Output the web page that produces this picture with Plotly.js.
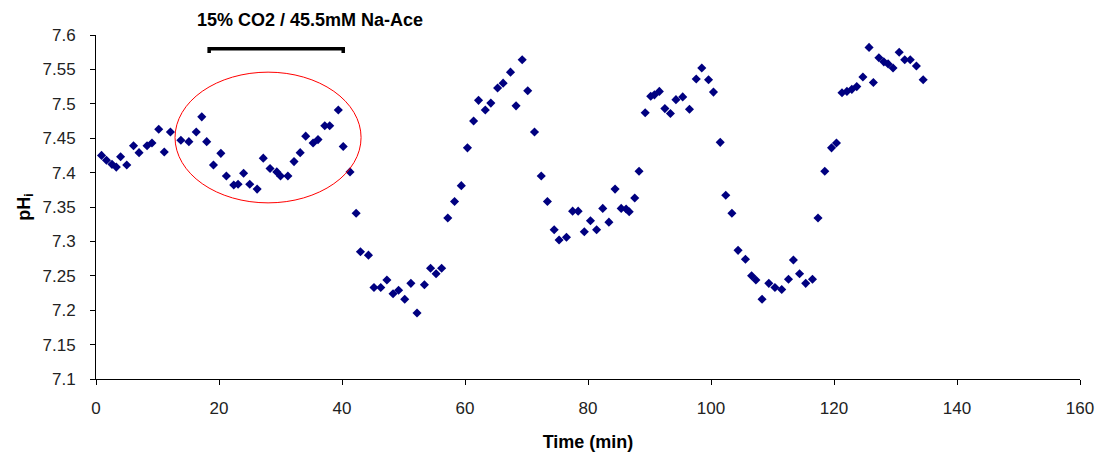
<!DOCTYPE html>
<html><head><meta charset="utf-8">
<script src="https://cdn.plot.ly/plotly-3.0.1.min.js"></script>
<style>body{margin:0;background:#fff}#c{width:1108px;height:462px}</style>
</head><body><div id="c"></div>
<script>
const timeMin = [0.9,1.7,2.6,3.3,4.0,5.0,6.1,7.0,8.3,9.1,10.2,11.1,12.1,13.8,15.1,16.3,17.2,18.0,19.1,20.3,21.2,22.4,23.1,24.0,25.0,26.2,27.2,28.3,29.4,30.0,31.2,32.2,33.2,34.1,35.3,36.1,37.2,38.0,39.4,40.2,41.3,
42.3,43.0,44.3,45.2,46.3,47.3,48.3,49.2,50.2,51.2,52.2,53.4,54.4,55.3,56.2,57.2,58.3,59.4,60.4,61.4,62.2,63.3,64.2,65.3,66.2,67.4,68.3,69.3,70.2,71.3,72.4,73.4,74.5,
75.3,76.5,77.5,78.4,79.4,80.4,81.4,82.4,83.4,84.4,85.4,86.2,86.7,87.6,88.3,89.3,90.2,90.8,91.6,92.5,93.4,94.3,95.4,96.5,97.6,98.5,99.6,100.4,101.5,102.4,
103.4,104.4,105.6,106.6,107.3,108.3,109.4,110.4,111.5,112.6,113.4,114.4,115.4,116.5,117.4,118.5,119.6,120.4,121.3,122.1,122.9,123.7,124.7,125.7,126.4,127.3,128.1,128.8,129.6,130.6,131.5,132.4,133.4,134.5];
const pHi = [7.425,7.418,7.412,7.408,7.423,7.411,7.439,7.429,7.439,7.443,7.463,7.430,7.459,7.447,7.445,7.459,7.481,7.445,7.411,7.428,7.395,7.382,7.383,7.399,7.383,7.376,7.421,7.406,7.401,7.395,7.395,7.416,7.429,7.453,7.443,7.448,7.468,7.468,7.491,7.438,7.401,
7.341,7.285,7.280,7.233,7.233,7.244,7.224,7.229,7.216,7.239,7.196,7.237,7.261,7.253,7.261,7.334,7.358,7.381,7.436,7.475,7.505,7.491,7.501,7.523,7.530,7.546,7.497,7.564,7.519,7.459,7.395,7.358,7.317,
7.302,7.306,7.344,7.344,7.314,7.330,7.317,7.348,7.328,7.376,7.348,7.347,7.343,7.363,7.402,7.487,7.511,7.513,7.518,7.493,7.486,7.506,7.510,7.492,7.536,7.552,7.535,7.517,7.444,7.367,
7.341,7.287,7.274,7.250,7.244,7.216,7.239,7.233,7.230,7.245,7.273,7.253,7.239,7.245,7.334,7.402,7.436,7.443,7.516,7.518,7.521,7.525,7.539,7.582,7.531,7.567,7.561,7.558,7.552,7.575,7.564,7.564,7.555,7.535];
const xTicks = [0,20,40,60,80,100,120,140,160];
const yTicks = [7.1,7.15,7.2,7.25,7.3,7.35,7.4,7.45,7.5,7.55,7.6];
const treatmentLabel = "15% CO2 / 45.5mM Na-Ace";
const treatmentStart = 18.4, treatmentEnd = 40.2, treatmentLevel = 7.580;

const FAM = "Liberation Sans, Arial, sans-serif";
const tickFont = {family:FAM, size:17, color:"#222"};
Plotly.newPlot("c", [{
  x: timeMin, y: pHi, type:"scatter", mode:"markers",
  marker:{symbol:"diamond", size:7, color:"#000080"},
  cliponaxis:false, hoverinfo:"x+y"
}], {
  width:1108, height:462,
  margin:{l:96, r:28, t:35, b:83},
  paper_bgcolor:"#fff", plot_bgcolor:"#fff",
  showlegend:false,
  xaxis:{range:[0,160], tickvals:xTicks, ticktext:xTicks.map(String), showgrid:false, zeroline:false,
    showline:true, linecolor:"#000", linewidth:1, ticks:"outside", ticklen:5, tickcolor:"#000",
    ticklabelstandoff:9,
    tickfont:tickFont, title:{text:"<b>Time (min)</b>", font:{family:FAM, size:18, color:"#000"}, standoff:17}},
  yaxis:{range:[7.1,7.6], tickvals:yTicks, ticktext:yTicks.map(v=>String(v)), showgrid:false, zeroline:false,
    showline:true, linecolor:"#000", linewidth:1, ticks:"outside", ticklen:5, tickcolor:"#000",
    ticklabelstandoff:11,
    tickfont:tickFont, title:{text:"<b>pH<sub>i</sub></b>", font:{family:FAM, size:18, color:"#000"}, standoff:7}},
  shapes:[
    {type:"path", xref:"x", yref:"y",
     path:"M"+treatmentStart+","+(treatmentLevel-0.006)+" L"+treatmentStart+","+treatmentLevel+" L"+treatmentEnd+","+treatmentLevel+" L"+treatmentEnd+","+(treatmentLevel-0.006),
     line:{color:"#000", width:3.5}},
    {type:"circle", xref:"x", yref:"y", x0:12.85, x1:43.1, y0:7.356, y1:7.546, line:{color:"#ff0000", width:1}}
  ],
  annotations:[
    {xref:"x", yref:"paper", x:34.8, y:1.044, yanchor:"middle", text:"<b>"+treatmentLabel+"</b>", showarrow:false,
     font:{family:FAM, size:18, color:"#000"}}
  ]
}, {displayModeBar:false, staticPlot:true});
</script></body></html>
